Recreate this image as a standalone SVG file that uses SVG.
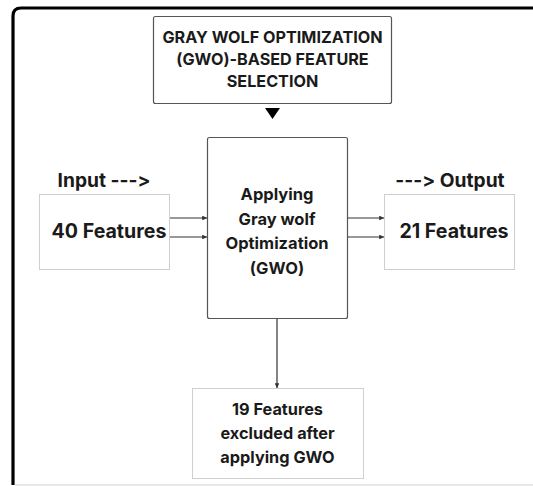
<svg xmlns="http://www.w3.org/2000/svg" width="533" height="486" viewBox="0 0 533 486">
  <style>
    .t { font-family: Inter, "Liberation Sans", Arial, sans-serif; font-weight: 700; fill: #1a1a1a; text-anchor: middle; font-variant-ligatures: none; font-feature-settings: "calt" 0, "liga" 0; }
    .box { fill: #ffffff; stroke: #555555; stroke-width: 1.2; }
    .light { fill: #ffffff; stroke: #cfcfcf; stroke-width: 1; }
    .link { stroke: #333333; stroke-width: 1.2; fill: none; marker-end: url(#head); }
  </style>
  <defs>
    <marker id="head" viewBox="0 0 6 6" refX="6" refY="3" markerWidth="4" markerHeight="4" orient="auto">
      <path d="M0,0 L6,3 L0,6 Z" fill="#333333"/>
    </marker>
  </defs>
  <rect width="533" height="486" fill="#ffffff"/>

  <!-- outer frame: open on the right -->
  <path d="M533,8 L21,8 Q13,8 13,16 L13,485" fill="none" stroke="#000000" stroke-width="3.2"/>
  <line x1="15" y1="485" x2="533" y2="485" stroke="#e0e0e0" stroke-width="1.5"/>

  <g id="gwo-title">
    <rect class="box" x="153.5" y="16.5" width="238" height="87" rx="2"/>
    <text class="t" x="272.5" y="43" font-size="16.2">GRAY WOLF OPTIMIZATION</text>
    <text class="t" x="272.5" y="65" font-size="16.2">(GWO)-BASED FEATURE</text>
    <text class="t" x="272.5" y="87" font-size="16.2">SELECTION</text>
    <path d="M265,108 L280,108 L272.5,119 Z" fill="#000000"/>
  </g>

  <g id="input">
    <text class="t" x="104" y="187" font-size="19.2">Input ---&gt;</text>
    <rect class="light" x="39.5" y="194.5" width="130" height="75"/>
    <text class="t" x="109" y="238" font-size="19.6">40 Features</text>
  </g>

  <g id="gwo-process">
    <rect class="box" x="207.5" y="137.5" width="140" height="181" rx="2"/>
    <text class="t" x="277" y="200" font-size="16.5">Applying</text>
    <text class="t" x="277" y="225" font-size="16.5">Gray wolf</text>
    <text class="t" x="277" y="249" font-size="16.5">Optimization</text>
    <text class="t" x="277" y="274" font-size="16.5">(GWO)</text>
  </g>

  <g id="output">
    <text class="t" x="450" y="187" font-size="19.2">---&gt; Output</text>
    <rect class="light" x="384.5" y="194.5" width="130" height="75"/>
    <text class="t" x="454" y="238" font-size="19.6">21 Features</text>
  </g>

  <g id="excluded">
    <rect class="light" x="192.5" y="388.5" width="171" height="90"/>
    <text class="t" x="277.5" y="415" font-size="16.3">19 Features</text>
    <text class="t" x="277.5" y="439" font-size="16.3">excluded after</text>
    <text class="t" x="277.5" y="463" font-size="16.3">applying GWO</text>
  </g>

  <g id="connectors">
    <line class="link" x1="170" y1="218" x2="207" y2="218"/>
    <line class="link" x1="170" y1="237" x2="207" y2="237"/>
    <line class="link" x1="348" y1="218" x2="384" y2="218"/>
    <line class="link" x1="348" y1="237" x2="384" y2="237"/>
    <line class="link" x1="277" y1="319" x2="277" y2="388"/>
  </g>
</svg>
